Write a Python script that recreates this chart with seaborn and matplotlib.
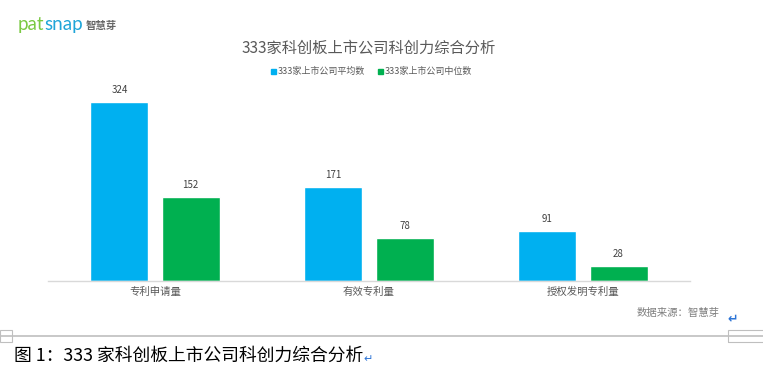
import matplotlib
matplotlib.use("Agg")
import matplotlib.pyplot as plt
from matplotlib.patches import Rectangle
import seaborn as sns
import pandas as pd

categories = ["专利申请量", "有效专利量", "授权发明专利量"]
series_names = ["333家上市公司平均数", "333家上市公司中位数"]
mean_values = [324, 171, 91]
median_values = [152, 78, 28]
colors = ["#00B0F0", "#00B050"]

df = pd.DataFrame({
    "category": categories * 2,
    "series": [series_names[0]] * 3 + [series_names[1]] * 3,
    "value": mean_values + median_values,
})

sns.set_theme(style="white")
plt.rcParams["font.family"] = ["Noto Sans CJK SC", "DejaVu Sans"]

W, H = 763, 368
fig = plt.figure(figsize=(W / 100, H / 100), dpi=100)
ax = fig.add_axes([48 / W, (H - 281) / H, (690 - 48) / W, (281 - 90) / H])

sns.barplot(data=df, x="category", y="value", hue="series", palette=colors,
            width=0.664, gap=0.184, ax=ax, legend=False, saturation=1)

ax.set_xlim(-0.5, 2.5)
ax.set_ylim(0, 346)
for c in ax.containers:
    ax.bar_label(c, padding=5, fontsize=7, color="#404040")

ax.set_xlabel("")
ax.set_ylabel("")
ax.set_yticks([])
ax.tick_params(axis="x", length=0, labelsize=7.5, labelcolor="#595959", pad=4)
for s in ["top", "right", "left"]:
    ax.spines[s].set_visible(False)
ax.spines["bottom"].set_color("#D9D9D9")
ax.spines["bottom"].set_linewidth(1)

# Title
fig.text(369 / W, 1 - 48 / H, "333家科创板上市公司科创力综合分析", ha="center", va="center",
         fontsize=11, color="#595959")

# Legend
leg_y = 1 - 71 / H
fig.patches.append(Rectangle((271 / W, leg_y - 2.5 / H), 5 / W, 5 / H, color=colors[0],
                             transform=fig.transFigure, figure=fig))
fig.text(278 / W, leg_y, series_names[0], ha="left", va="center", fontsize=6.5, color="#595959")
fig.patches.append(Rectangle((378 / W, leg_y - 2.5 / H), 5 / W, 5 / H, color=colors[1],
                             transform=fig.transFigure, figure=fig))
fig.text(385 / W, leg_y, series_names[1], ha="left", va="center", fontsize=6.5, color="#595959")

# Logo
pat = fig.text(18 / W, 1 - 30 / H, "pat", ha="left", va="baseline", fontsize=13.5, color="#7AC943",
               family=["Lato", "DejaVu Sans"])
plt.annotate("snap", xy=(1, 0), xycoords=pat, ha="left", va="bottom",
             fontsize=13.5, color="#1FA5D8", family=["Lato", "DejaVu Sans"],
             annotation_clip=False)
fig.text(86 / W, 1 - 26 / H, "智慧芽", ha="left", va="center", fontsize=7.5, color="#666666",
         weight="bold")

# Source
fig.text(720 / W, 1 - 313 / H, "数据来源：智慧芽", ha="right", va="center", fontsize=7.5,
         color="#7F7F7F")
fig.text(733 / W, 1 - 320 / H, "↵", ha="center", va="center", fontsize=9, color="#2E75D6",
         family=["DejaVu Sans"], weight="bold")

# Document frame line and small boxes
fig.add_artist(plt.Line2D([0, 1], [1 - 336 / H, 1 - 336 / H], color="#BFBFBF", lw=1.2,
                          transform=fig.transFigure))
fig.patches.append(Rectangle((0, 1 - 342 / H), 12 / W, 12 / H, fill=False, ec="#BFBFBF", lw=0.8,
                             transform=fig.transFigure, figure=fig))
fig.patches.append(Rectangle((728 / W, 1 - 342 / H), 40 / W, 12 / H, fill=False, ec="#BFBFBF", lw=0.8,
                             transform=fig.transFigure, figure=fig))

# Caption
cap = fig.text(14 / W, 1 - 356 / H, "图 1：333 家科创板上市公司科创力综合分析", ha="left", va="center",
               fontsize=12.8, color="#000000")
plt.annotate("↵", xy=(1, 0.3), xycoords=cap, ha="left", va="center", fontsize=8,
             color="#2E75D6", family=["DejaVu Sans"], annotation_clip=False)

fig.savefig("out.png", dpi=100)
